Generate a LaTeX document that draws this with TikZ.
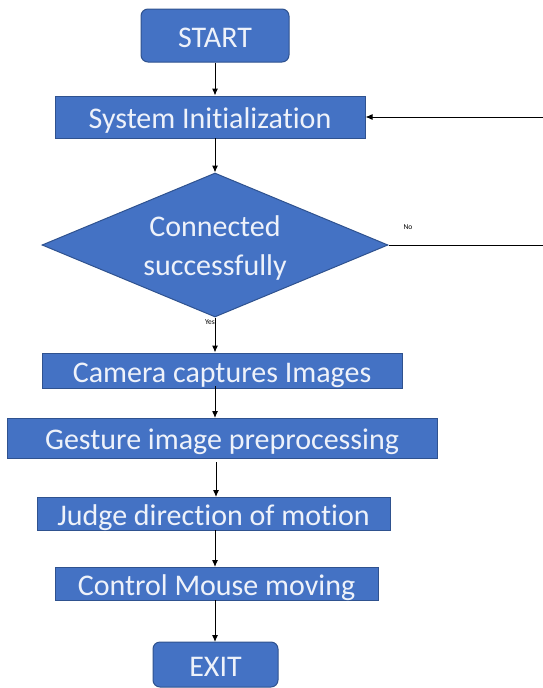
\documentclass[tikz,border=0pt]{standalone}
\usepackage{fontspec}
\setmainfont{Carlito}[Ligatures=NoCommon]
\usetikzlibrary{shapes.geometric,arrows.meta}
\definecolor{boxblue}{HTML}{4472C4}
\definecolor{boxedge}{HTML}{2F528F}
\definecolor{txt}{HTML}{EEF2FA}
\begin{document}
\begin{tikzpicture}[x=1pt,y=-1pt,
  box/.style={draw=boxedge,line width=1pt,fill=boxblue,text=txt,font=\fontsize{30}{36}\selectfont,inner sep=0pt,text height=26pt,text depth=3pt,anchor=center},
  term/.style={box,rounded corners=7pt},
  flow/.style={draw=black,line width=1pt,-{Latex[length=7pt,width=6pt]}},
  lbl/.style={font=\fontsize{7.5}{8}\selectfont,inner sep=0pt}]
\useasboundingbox (0,0) rectangle (543,688);
\node[term,minimum width=148pt,minimum height=53pt] (start) at (215,35.5) {START};
\node[box,minimum width=310pt,minimum height=42pt] (init) at (210,117) {System Initialization};
\node[draw=boxedge,line width=1pt,fill=boxblue,diamond,aspect=2.44,minimum width=346pt,minimum height=144pt,inner sep=0pt] (dec) at (215,245) {};
\node[text=txt,font=\fontsize{30}{39}\selectfont,align=center] (dectext) at (215,248) {Connected\\successfully};
\node[box,minimum width=360pt,minimum height=35pt] (cam) at (222,370.5) {Camera captures Images};
\node[box,minimum width=430pt,minimum height=40pt] (ges) at (222,438) {Gesture image preprocessing};
\node[box,minimum width=353pt,minimum height=33pt] (judge) at (213.5,513.5) {Judge direction of motion};
\node[box,minimum width=323pt,minimum height=33pt] (mouse) at (216.5,583.5) {Control Mouse moving};
\node[term,minimum width=125pt,minimum height=45pt] (exit) at (215.5,664.5) {EXIT};
\coordinate (r1) at (543,117);
\coordinate (r2) at (543,245);
\draw[flow] (start.south) -- (start.south |- init.north);
\draw[flow] (215,138) -- (dec.north);
\draw[flow] (r1) -- (init.east);
\draw[draw=black,line width=1pt] (dec.east) -- (r2);
\draw[flow] (dec.south) -- (dec.south |- cam.north);
\draw[flow] (215,386) -- (215,418);
\draw[flow] (216,462) -- (216,497);
\draw[flow] (215,530) -- (215,567);
\draw[flow] (215,600) -- (215,642);
\node[lbl] (no) at (408,227) {No};
\node[lbl,anchor=east] (yes) at (215,322) {Yes};
\end{tikzpicture}
\end{document}
